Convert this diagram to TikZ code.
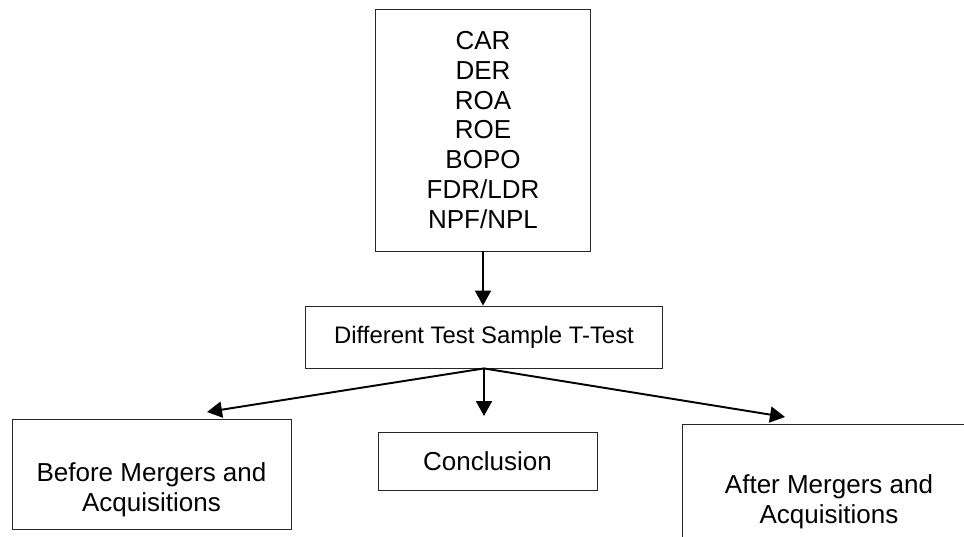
\documentclass[tikz,border=0pt]{standalone}
\usepackage{fontspec}
\setmainfont{Liberation Sans}
\usetikzlibrary{arrows.meta}
\tikzset{
  box/.style={draw=black!85, line width=0.5pt, align=center, inner sep=0pt,
    font=\fontsize{14.8}{17}\selectfont},
  flow/.style={-{Triangle[length=0.3cm,width=0.32cm]}, line width=1.1pt}
}
\begin{document}
\begin{tikzpicture}[x=0.02cm,y=-0.02cm]
    % page
    \clip (0,0) rectangle (964,537);
    % boxes
    \node[box, minimum width=4.3cm, minimum height=4.84cm] (vars) at (483,130)
      {CAR\\DER\\ROA\\ROE\\BOPO\\FDR/LDR\\NPF/NPL};
    \node[box, minimum width=7.14cm, minimum height=1.24cm,
      font=\fontsize{13.6}{16}\selectfont] (ttest) at (484,337)
      {Different Test Sample T-Test};
    \node[box, minimum width=4.38cm, minimum height=1.16cm] (concl) at (487.5,461)
      {Conclusion};
    \node[box, minimum width=5.58cm, minimum height=2.2cm] (before) at (151.5,474)
      {\strut\\Before Mergers and\\Acquisitions};
    \node[box, minimum width=5.88cm, minimum height=2.48cm] (after) at (829,486)
      {\strut\\After Mergers and\\Acquisitions};
    % arrow ends
    \coordinate (tipB) at (207,412);
    \coordinate (tipC) at (484,416);
    \coordinate (tipA) at (785,417);
    % arrows
    \draw[flow] (vars.south) -- (vars.south |- ttest.north);
    \draw[flow] (ttest.south) -- (tipB);
    \draw[flow] (ttest.south) -- (tipC);
    \draw[flow] (ttest.south) -- (tipA);
\end{tikzpicture}
\end{document}
